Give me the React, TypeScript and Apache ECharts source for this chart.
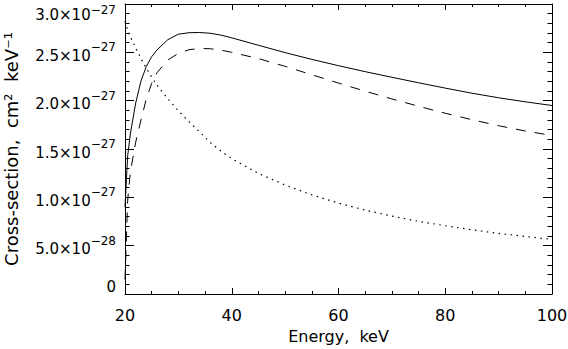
import React, { useEffect, useRef } from "react";
import * as echarts from "echarts";

// Energy grid (keV)
const energy = [20, 20.5, 21, 22, 23, 24, 25, 26, 28, 30, 32, 34, 36, 38, 40, 45, 50, 55, 60, 65, 70, 75, 80, 85, 90, 95, 100];
// Cross-sections in units of 1e-27 cm^2 keV^-1
const solid = [0.9, 1.43, 1.655, 1.975, 2.205, 2.355, 2.455, 2.525, 2.63, 2.688, 2.703, 2.705, 2.697, 2.678, 2.65, 2.573, 2.497, 2.427, 2.362, 2.3, 2.242, 2.185, 2.13, 2.077, 2.03, 1.988, 1.95];
const dashed = [0.15, 0.97, 1.26, 1.57, 1.8, 2.02, 2.18, 2.29, 2.42, 2.49, 2.527, 2.54, 2.537, 2.523, 2.5, 2.435, 2.355, 2.268, 2.182, 2.098, 2.018, 1.942, 1.87, 1.803, 1.741, 1.686, 1.64];
const dotted = [2.82, 2.73, 2.66, 2.545, 2.435, 2.335, 2.245, 2.16, 2.02, 1.895, 1.782, 1.675, 1.565, 1.478, 1.4, 1.247, 1.127, 1.026, 0.94, 0.868, 0.806, 0.752, 0.706, 0.664, 0.627, 0.595, 0.565];

const xTicks = { min: 20, max: 100, interval: 20 };
const yTicks = { min: 0, max: 3, interval: 0.5 };

const FONT = "DejaVu Sans";

function yLabel(v: number): string {
  if (Math.abs(v) < 1e-9) return "{z|0}";
  const e = Math.floor(Math.log10(v) + 1e-9);
  const mant = v / Math.pow(10, e);
  const exp = e - 27;
  const top = v >= yTicks.max - 1e-9;
  return top
    ? `{mt|${mant.toFixed(1)}×10}{et|−${Math.abs(exp)}}`
    : `{m|${mant.toFixed(1)}×10}{e|−${Math.abs(exp)}}`;
}

export default function App() {
  const ref = useRef<HTMLDivElement>(null);
  useEffect(() => {
    if (!ref.current) return;
    const chart = echarts.init(ref.current, undefined, { renderer: "svg" });
    const axisLine = { onZero: false, lineStyle: { color: "#000", width: 1 } };
    const mkSeries = (vals: number[], type: any, width: number) => ({
      type: "line",
      data: energy.map((e, i) => [e, vals[i]]),
      showSymbol: false,
      smooth: false,
      lineStyle: { color: "#000", width, type, cap: "butt", join: "round" },
      xAxisIndex: 0,
      yAxisIndex: 0,
    });
    chart.setOption({
      animation: false,
      backgroundColor: "#fff",
      grid: { left: 125, right: 16, top: 4, bottom: 55, containLabel: false, outerBoundsMode: "none" },
      xAxis: [
        {
          type: "value",
          ...xTicks,
          position: "bottom",
          axisLine,
          axisTick: { inside: true, length: 6, lineStyle: { color: "#000" } },
          minorTick: { show: true, splitNumber: 4, length: 3, lineStyle: { color: "#000" } },
          splitLine: { show: false },
          minorSplitLine: { show: false },
          axisLabel: { margin: 13, fontSize: 16, color: "#000", fontFamily: FONT },
          name: "Energy,  keV",
          nameLocation: "middle",
          nameGap: 34,
          nameTextStyle: { fontSize: 16, color: "#000", fontFamily: FONT },
        },
        {
          type: "value",
          ...xTicks,
          position: "top",
          axisLine,
          axisTick: { inside: true, length: 6, lineStyle: { color: "#000" } },
          minorTick: { show: true, splitNumber: 4, length: 3, lineStyle: { color: "#000" } },
          splitLine: { show: false },
          axisLabel: { show: false },
        },
      ],
      yAxis: [
        {
          type: "value",
          ...yTicks,
          position: "left",
          axisLine,
          axisTick: { inside: true, length: 9, lineStyle: { color: "#000" } },
          minorTick: { show: true, splitNumber: 5, length: 4.5, lineStyle: { color: "#000" } },
          splitLine: { show: false },
          minorSplitLine: { show: false },
          axisLabel: {
            margin: 9,
            color: "#000",
            fontFamily: FONT,
            formatter: yLabel,
            verticalAlignMaxLabel: "top",
            verticalAlignMinLabel: "bottom",
            rich: {
              m: { fontSize: 15, lineHeight: 22, verticalAlign: "bottom", fontFamily: FONT, color: "#000" },
              e: { fontSize: 12, lineHeight: 12, verticalAlign: "top", fontFamily: FONT, color: "#000" },
              mt: { fontSize: 15, lineHeight: 18, verticalAlign: "bottom", fontFamily: FONT, color: "#000" },
              et: { fontSize: 12, lineHeight: 7, verticalAlign: "top", fontFamily: FONT, color: "#000" },
              z: { fontSize: 15, lineHeight: 15, fontFamily: FONT, color: "#000" },
            },
          },
          name: "Cross-section,  cm²  keV⁻¹",
          nameLocation: "middle",
          nameRotate: 90,
          nameGap: 105,
          nameTextStyle: { fontSize: 18, color: "#000", fontFamily: FONT },
        },
        {
          type: "value",
          ...yTicks,
          position: "right",
          axisLine,
          axisTick: { inside: true, length: 9, lineStyle: { color: "#000" } },
          minorTick: { show: true, splitNumber: 5, length: 4.5, lineStyle: { color: "#000" } },
          splitLine: { show: false },
          axisLabel: { show: false },
        },
      ],
      series: [
        mkSeries(solid, "solid", 1),
        mkSeries(dashed, [10, 9], 1),
        mkSeries(dotted, [1.5, 4.5], 1.2),
      ],
    });
    return () => chart.dispose();
  }, []);
  return <div ref={ref} style={{ position: "absolute", left: 0, top: 0, width: 568, height: 349 }} />;
}
